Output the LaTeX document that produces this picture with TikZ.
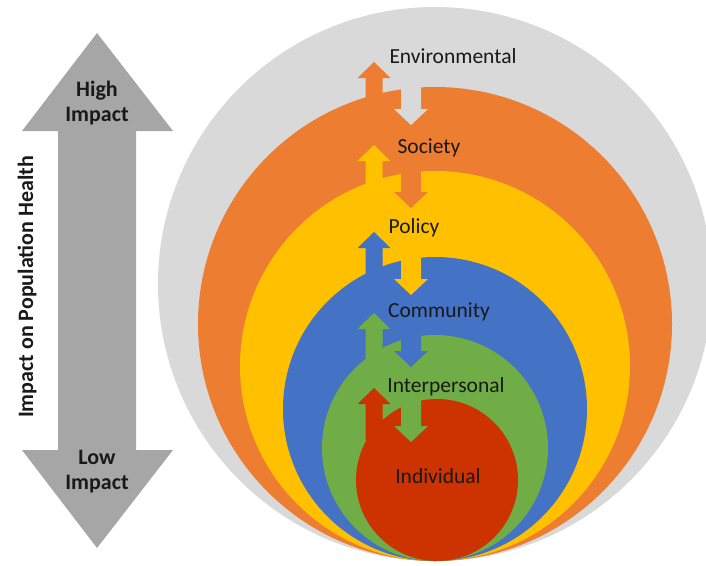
\documentclass[tikz,border=0pt]{standalone}
\usepackage{fontspec}
\setmainfont{Carlito}

\definecolor{ringgray}{RGB}{217,217,217}
\definecolor{ringorange}{RGB}{237,125,49}
\definecolor{ringyellow}{RGB}{255,192,0}
\definecolor{ringblue}{RGB}{68,114,196}
\definecolor{ringgreen}{RGB}{112,173,71}
\definecolor{ringred}{RGB}{204,51,0}
\definecolor{axisgray}{RGB}{166,166,166}

\tikzset{
  lvl/.style={anchor=base, text=black!90, font=\fontsize{21.5}{25}\selectfont},
  side/.style={align=center, text=black!90, font=\fontsize{22}{25}\selectfont\bfseries}
}

\begin{document}
\begin{tikzpicture}[x=1pt, y=-1pt]
\useasboundingbox (0,0) rectangle (706,565);

% axis arrow
\fill[axisgray] (97,33) -- (173,131) -- (136,131) -- (136,450) -- (173,450) -- (97,548) -- (22,450) -- (58,450) -- (58,131) -- (22,131) -- cycle;
\node[side] (high) at (97,103) {High\\Impact};
\node[side] (low) at (97,472) {Low\\Impact};
\node[side, rotate=90, anchor=base] (axis) at (33,287) {Impact on Population Health};

% rings, outer to inner
\fill[ringgray] (435,284) circle (277pt);
\fill[ringorange] (435,324) circle (237pt);
\fill[ringorange] (374,62) -- (390.5,78) -- (382.5,78) -- (382.5,115) -- (365.5,115) -- (365.5,78) -- (357.5,78) -- cycle;
\fill[ringgray] (401,80) -- (421,80) -- (421,109) -- (428,109) -- (411,125) -- (394,109) -- (401,109) -- cycle;

\fill[ringyellow] (435,366) circle (195pt);
\fill[ringyellow] (374,145) -- (390.5,161) -- (382.5,161) -- (382.5,200) -- (365.5,200) -- (365.5,161) -- (357.5,161) -- cycle;
\fill[ringorange] (401,160) -- (421,160) -- (421,192) -- (428,192) -- (411,208) -- (394,192) -- (401,192) -- cycle;

\fill[ringblue] (435,409) circle (152pt);
\fill[ringblue] (374,232) -- (390.5,248) -- (382.5,248) -- (382.5,290) -- (365.5,290) -- (365.5,248) -- (357.5,248) -- cycle;
\fill[ringyellow] (401,245) -- (421,245) -- (421,279) -- (428,279) -- (411,295) -- (394,279) -- (401,279) -- cycle;

\fill[ringgreen] (435,448) circle (113pt);
\fill[ringgreen] (374,313) -- (390.5,329) -- (382.5,329) -- (382.5,370) -- (365.5,370) -- (365.5,329) -- (357.5,329) -- cycle;
\fill[ringblue] (401,325) -- (421,325) -- (421,351) -- (428,351) -- (411,367) -- (394,351) -- (401,351) -- cycle;

\fill[ringred] (437,480) circle (81pt);
\fill[ringred] (374,388) -- (390.5,404) -- (382.5,404) -- (382.5,440) -- (365.5,440) -- (365.5,404) -- (357.5,404) -- cycle;
\fill[ringgreen] (401,390) -- (421,390) -- (421,426) -- (428,426) -- (411,442) -- (394,426) -- (401,426) -- cycle;

% level names
\node[lvl] (env) at (453,63) {Environmental};
\node[lvl] (soc) at (429,153) {Society};
\node[lvl] (pol) at (414,233) {Policy};
\node[lvl] (com) at (439,317) {Community};
\node[lvl] (inter) at (446,392) {Interpersonal};
\node[lvl] (indiv) at (438,483) {Individual};
\end{tikzpicture}
\end{document}
